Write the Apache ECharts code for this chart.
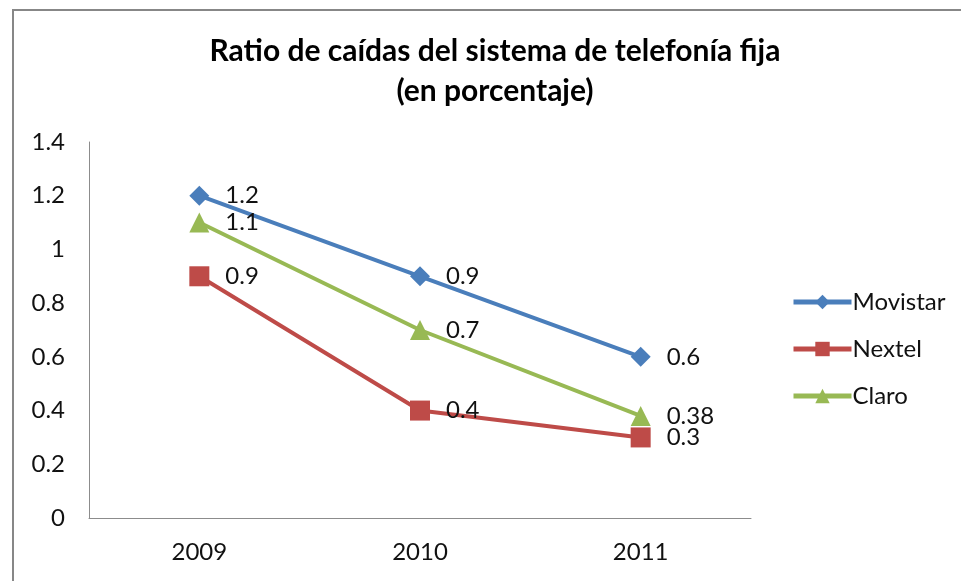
<!DOCTYPE html>
<html>
<head>
<meta charset="utf-8">
<script src="https://cdn.jsdelivr.net/npm/echarts@6/dist/echarts.min.js"></script>
<style>
  html, body { margin: 0; padding: 0; background: #fff; }
  #chart { width: 961px; height: 581px; }
</style>
</head>
<body>
<div id="chart"></div>
<script>
const years = ['2009', '2010', '2011']
const movistar = [1.2, 0.9, 0.6]
const nextel = [0.9, 0.4, 0.3]
const claro = [1.1, 0.7, 0.38]

const font = 'Lato, "Open Sans", sans-serif'

function makeSeries (name, data, color, symbol, size) {
  return {
    name: name,
    type: 'line',
    data: data,
    symbol: symbol,
    symbolSize: size,
    lineStyle: { width: 4, color: color },
    itemStyle: { color: color },
    label: {
      show: true,
      position: 'right',
      distance: 16,
      fontFamily: font,
      fontSize: 24,
      color: '#111'
    }
  }
}

const chart = echarts.init(document.getElementById('chart'))
const option = {
  backgroundColor: '#fff',
  animation: false,
  graphic: [{
    type: 'rect',
    shape: { x: 13, y: 10, width: 1000, height: 1000 },
    style: { fill: 'none', stroke: '#878787', lineWidth: 2 },
    silent: true
  }],
  title: {
    text: 'Ratio de caídas del sistema de telefonía fija\n(en porcentaje)',
    left: 490,
    textAlign: 'center',
    top: 26,
    textStyle: {
      fontFamily: font,
      fontWeight: 'bold',
      fontSize: 30,
      lineHeight: 40,
      color: '#000'
    }
  },
  legend: {
    orient: 'vertical',
    left: 786,
    top: 285,
    itemWidth: 58,
    itemHeight: 18,
    itemGap: 23,
    lineStyle: { width: 5 },
    textStyle: { fontFamily: font, fontSize: 24, color: '#111', padding: [0, 0, 0, -4] },
    data: ['Movistar', 'Nextel', 'Claro']
  },
  grid: { left: 89, top: 142, right: 210, bottom: 63, containLabel: false },
  xAxis: {
    type: 'category',
    data: years,
    boundaryGap: true,
    axisLine: { lineStyle: { color: '#8c8c8c', width: 1 } },
    axisTick: { show: false },
    axisLabel: { fontFamily: font, fontSize: 24, color: '#111', margin: 22 }
  },
  yAxis: {
    type: 'value',
    min: 0,
    max: 1.4,
    interval: 0.2,
    axisLine: { show: true, lineStyle: { color: '#8c8c8c', width: 1 } },
    axisTick: { show: false },
    splitLine: { show: false },
    axisLabel: {
      fontFamily: font,
      fontSize: 24,
      color: '#111',
      margin: 24,
      formatter: function (v) { return String(Math.round(v * 10) / 10) }
    }
  },
  series: [
    makeSeries('Movistar', movistar, '#4a7ebb', 'diamond', 20),
    makeSeries('Nextel', nextel, '#be4b48', 'rect', 20),
    makeSeries('Claro', claro, '#98b954', 'triangle', 20)
  ]
}
chart.setOption(option)
</script>
</body>
</html>
